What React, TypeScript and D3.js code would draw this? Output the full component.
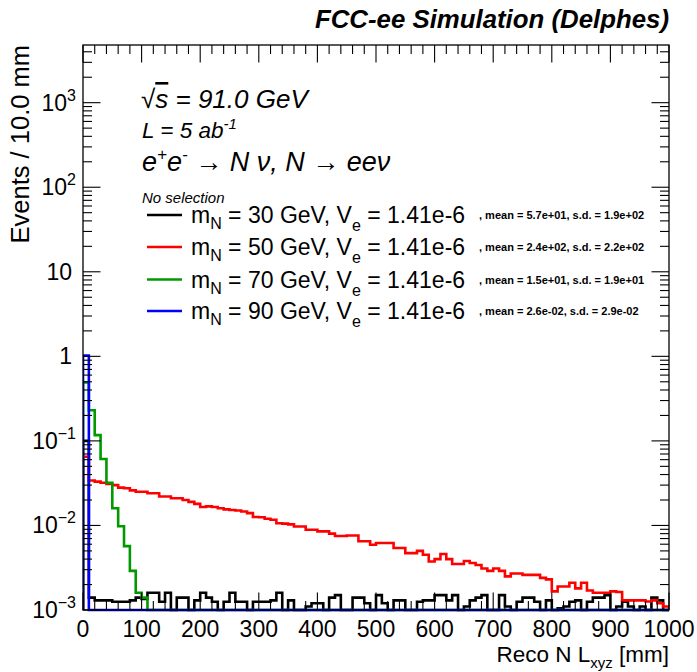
import React from 'react';
import * as d3 from 'd3';

// ---------- data ----------
const xRange = [0, 1000];
const nBins = 100;
const xTickValues = [0, 100, 200, 300, 400, 500, 600, 700, 800, 900, 1000];
const yDecades = [-3, -2, -1, 0, 1, 2, 3];

const seriesLabels = ['30', '50', '70', '90'];
const seriesStats = [
  ', mean = 5.7e+01, s.d. = 1.9e+02',
  ', mean = 2.4e+02, s.d. = 2.2e+02',
  ', mean = 1.5e+01, s.d. = 1.9e+01',
  ', mean = 2.6e-02, s.d. = 2.9e-02',
];
const seriesColors = ['#000000', '#ff0000', '#009900', '#0000ff'];

const blackVals = [
  0.1, 0.0014, 0.0013, 0.0013, 0.0013, 0.00125, 0.00125, 0.00125, 0.0013, 0.0014,
  0.00135, 0.0016, 0.0016, 0.00125, 0.0016, 0, 0.0014, 0.0014, 0, 0.0013,
  0.0016, 0.0014, 0.00125, 0, 0.00125, 0.0016, 0.00125, 0.00125, 0, 0.00125,
  0.00125, 0.00125, 0.0013, 0.0016, 0, 0.0013, 0, 0, 0.0011, 0.0012,
  0.0012, 0, 0.0014, 0.0015, 0, 0, 0.0014, 0.0014, 0.0012, 0,
  0.0015, 0.0012, 0, 0.0013, 0.0013, 0, 0, 0.00125, 0.0013, 0.0013,
  0.0015, 0.0015, 0.0013, 0.0015, 0, 0.0011, 0.0013, 0.0014, 0.0015, 0,
  0, 0.0015, 0.0011, 0, 0.00125, 0.0014, 0.0014, 0.00125, 0, 0.0013,
  0, 0.00105, 0.0011, 0.00125, 0.0013, 0, 0.00125, 0.0014, 0.0014, 0.0015,
  0, 0.0011, 0.00125, 0.0011, 0, 0.0011, 0, 0.0014, 0.0013, 0,
];
const redVals = [
  0.065, 0.034, 0.033, 0.032, 0.031, 0.030, 0.028, 0.0275, 0.026, 0.025,
  0.025, 0.024, 0.024, 0.022, 0.022, 0.021, 0.021, 0.020, 0.019, 0.018,
  0.0165, 0.0168, 0.0165, 0.016, 0.0155, 0.0152, 0.015, 0.0146, 0.014, 0.0126,
  0.0125, 0.012, 0.0117, 0.0106, 0.0105, 0.0103, 0.0097, 0.0097, 0.0089, 0.0089,
  0.0085, 0.0085, 0.0080, 0.0075, 0.0075, 0.0076, 0.0076, 0.0065, 0.0065, 0.0059,
  0.0062, 0.0062, 0.0062, 0.0054, 0.0054, 0.0047, 0.0047, 0.0050, 0.0045, 0.00375,
  0.0040, 0.0046, 0.0040, 0.0035, 0.0035, 0.0038, 0.0036, 0.0034, 0.0031, 0.0029,
  0.0031, 0.0029, 0.0025, 0.0027, 0.0027, 0.0026, 0.0026, 0.0026, 0.0024, 0.0023,
  0.00166, 0.0019, 0.0019, 0.0021, 0.0018, 0.0021, 0.0017, 0.0016, 0.0016, 0.0016,
  0.00166, 0.00163, 0.0013, 0.0013, 0.0013, 0.0013, 0.00126, 0.0013, 0.0012, 0.0011,
];
const greenVals = [
  0.49, 0.23, 0.117, 0.061, 0.032, 0.016, 0.0098, 0.0057, 0.0029, 0.0016,
  0.0014, 0, 0, 0, 0, 0, 0, 0, 0, 0,
  0, 0, 0, 0, 0, 0, 0, 0, 0, 0,
  0, 0, 0, 0, 0, 0, 0, 0, 0, 0,
  0, 0, 0, 0, 0, 0, 0, 0, 0, 0,
  0, 0, 0, 0, 0, 0, 0, 0, 0, 0,
  0, 0, 0, 0, 0, 0, 0, 0, 0, 0,
  0, 0, 0, 0, 0, 0, 0, 0, 0, 0,
  0, 0, 0, 0, 0, 0, 0, 0, 0, 0,
  0, 0, 0, 0, 0, 0, 0, 0, 0, 0,
];
const blueVals = [
  1.02, 0, 0, 0, 0, 0, 0, 0, 0, 0,
  0, 0, 0, 0, 0, 0, 0, 0, 0, 0,
  0, 0, 0, 0, 0, 0, 0, 0, 0, 0,
  0, 0, 0, 0, 0, 0, 0, 0, 0, 0,
  0, 0, 0, 0, 0, 0, 0, 0, 0, 0,
  0, 0, 0, 0, 0, 0, 0, 0, 0, 0,
  0, 0, 0, 0, 0, 0, 0, 0, 0, 0,
  0, 0, 0, 0, 0, 0, 0, 0, 0, 0,
  0, 0, 0, 0, 0, 0, 0, 0, 0, 0,
  0, 0, 0, 0, 0, 0, 0, 0, 0, 0,
];
const allSeries = [blackVals, redVals, greenVals, blueVals];

// ---------- layout ----------
const W = 697;
const H = 672;
const FL = 83, FR = 669, FT = 45, FB = 610;
const FONT = "'Liberation Sans', Arial, Helvetica, sans-serif";

const x = d3.scaleLinear().domain(xRange).range([FL, FR]);
const y = d3.scaleLog().domain([1e-3, 4810]).range([FB, FT]);

function yClamp(v: number) {
  if (!(v > 0)) return FB;
  return Math.max(FT, Math.min(FB, y(v)));
}

function stepPath(vals: number[]) {
  const bw = (xRange[1] - xRange[0]) / nBins;
  const pts: [number, number][] = [];
  pts.push([x(xRange[0]), FB]);
  vals.forEach((v, i) => {
    const yy = yClamp(v);
    pts.push([x(xRange[0] + i * bw), yy]);
    pts.push([x(xRange[0] + (i + 1) * bw), yy]);
  });
  pts.push([x(xRange[1]), FB]);
  return d3.line()(pts) || '';
}

export default function App() {
  const xMinor: number[] = [];
  for (let v = 0; v <= 1000; v += 20) if (v % 100 !== 0) xMinor.push(v);
  const yMinor: number[] = [];
  for (let e = -3; e <= 3; e++) {
    for (let m = 2; m <= 9; m++) {
      const v = m * Math.pow(10, e);
      if (v <= 4810) yMinor.push(v);
    }
  }
  const majL = 17.5, minL = 9;
  const legendRows = [215, 247, 279.5, 311];

  return (
    <svg width={W} height={H} style={{ display: 'block', position: 'absolute', left: 0, top: 0, background: '#fff' }}>
      <defs>
        <clipPath id="frameClip">
          <rect x={FL} y={FT - 2} width={FR - FL} height={FB - FT + 4} />
        </clipPath>
      </defs>
      <rect x={0} y={0} width={W} height={H} fill="#fff" />

      {/* histograms */}
      <g clipPath="url(#frameClip)">
        {allSeries.map((vals, i) => (
          <path key={i} d={stepPath(vals)} fill="none" stroke={seriesColors[i]} strokeWidth={2.6} strokeLinejoin="miter" />
        ))}
      </g>

      {/* frame */}
      <rect x={FL} y={FT} width={FR - FL} height={FB - FT} fill="none" stroke="#000" strokeWidth={1.3} />

      {/* ticks */}
      <g stroke="#000" strokeWidth={1.1}>
        {xTickValues.map((v) => (
          <g key={'xm' + v}>
            <line x1={x(v)} x2={x(v)} y1={FB} y2={FB - majL} />
            <line x1={x(v)} x2={x(v)} y1={FT} y2={FT + majL} />
          </g>
        ))}
        {xMinor.map((v) => (
          <g key={'xn' + v}>
            <line x1={x(v)} x2={x(v)} y1={FB} y2={FB - minL} />
            <line x1={x(v)} x2={x(v)} y1={FT} y2={FT + minL} />
          </g>
        ))}
        {yDecades.map((e) => (
          <g key={'ym' + e}>
            <line x1={FL} x2={FL + majL} y1={y(Math.pow(10, e))} y2={y(Math.pow(10, e))} />
            <line x1={FR} x2={FR - majL} y1={y(Math.pow(10, e))} y2={y(Math.pow(10, e))} />
          </g>
        ))}
        {yMinor.map((v, i) => (
          <g key={'yn' + i}>
            <line x1={FL} x2={FL + minL} y1={y(v)} y2={y(v)} />
            <line x1={FR} x2={FR - minL} y1={y(v)} y2={y(v)} />
          </g>
        ))}
      </g>

      {/* x tick labels */}
      <g fontFamily={FONT} fontSize={23} fill="#000" textAnchor="middle">
        {xTickValues.map((v) => (
          <text key={'xl' + v} x={x(v)} y={637}>{v}</text>
        ))}
      </g>

      {/* y tick labels */}
      <g fontFamily={FONT} fontSize={23} fill="#000" textAnchor="end">
        {yDecades.map((e) => {
          const yy = y(Math.pow(10, e)) + 8;
          if (e === 0) return <text key={'yl' + e} x={72} y={yy}>1</text>;
          if (e === 1) return <text key={'yl' + e} x={72} y={yy}>10</text>;
          return (
            <text key={'yl' + e} x={76} y={yy}>
              10<tspan fontSize={16} dy={-10}>{e < 0 ? '\u2212' + (-e) : String(e)}</tspan>
            </text>
          );
        })}
      </g>

      {/* axis titles */}
      <text x={669} y={662} fontFamily={FONT} fontSize={22.5} textAnchor="end" fill="#000">
        Reco N L<tspan fontSize={15} dy={6}>xyz</tspan><tspan dy={-6}> [mm]</tspan>
      </text>
      <text transform={`translate(29,45) rotate(-90)`} fontFamily={FONT} fontSize={25.5} textAnchor="end" fill="#000">
        Events / 10.0 mm
      </text>

      {/* title */}
      <text x={669} y={28} fontFamily={FONT} fontSize={25.8} fontWeight="bold" fontStyle="italic" textAnchor="end" fill="#000">
        FCC-ee Simulation (Delphes)
      </text>

      {/* annotations */}
      <g fontFamily={FONT} fontStyle="italic" fill="#000">
        <text x={141} y={108} fontSize={26}>
          <tspan fontStyle="normal">√</tspan><tspan style={{ textDecoration: 'overline' }}>s</tspan> = 91.0 GeV
        </text>
        <text x={142} y={138} fontSize={22.5}>
          L = 5 ab<tspan fontSize={15} dy={-9}>-1</tspan>
        </text>
        <text x={142} y={171} fontSize={27}>
          e<tspan fontSize={17} dy={-11}>+</tspan><tspan dy={11}>e</tspan><tspan fontSize={17} dy={-11}>-</tspan>
          <tspan dy={11} fontStyle="normal"> → </tspan>N ν, N <tspan fontStyle="normal">→</tspan> eeν
        </text>
        <text x={142} y={203} fontSize={15}>No selection</text>
      </g>

      {/* legend */}
      <g fontFamily={FONT} fill="#000">
        {seriesLabels.map((m, i) => (
          <g key={'lg' + i}>
            <line x1={147} x2={182} y1={legendRows[i]} y2={legendRows[i]} stroke={seriesColors[i]} strokeWidth={2.6} />
            <text x={191} y={legendRows[i] + 8} fontSize={23}>
              m<tspan fontSize={16} dy={6}>N</tspan><tspan dy={-6}>{` = ${m} GeV, V`}</tspan><tspan fontSize={16} dy={8}>e</tspan><tspan dy={-8}> = 1.41e-6</tspan>
            </text>
            <text x={479} y={legendRows[i] + 4} fontSize={11} fontWeight="bold">{seriesStats[i]}</text>
          </g>
        ))}
      </g>
    </svg>
  );
}
